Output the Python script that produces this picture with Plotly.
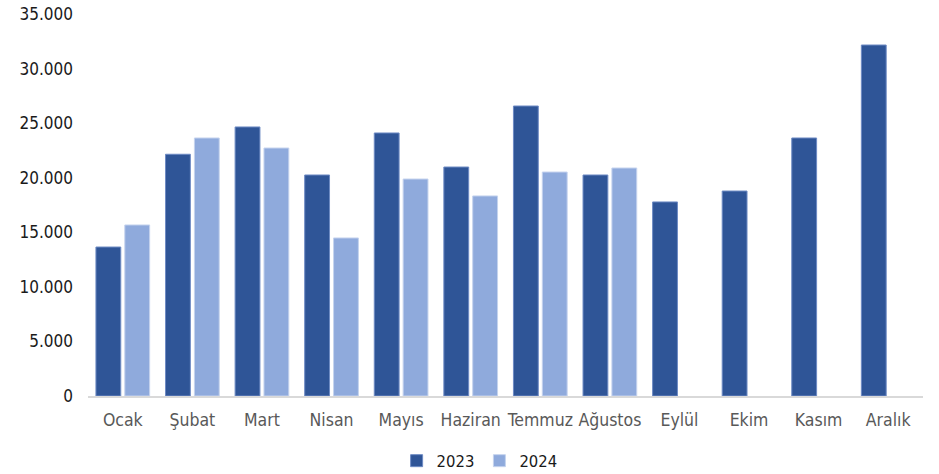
import plotly.graph_objects as go

months = ["Ocak", "Şubat", "Mart", "Nisan", "Mayıs", "Haziran", "Temmuz",
          "Ağustos", "Eylül", "Ekim", "Kasım", "Aralık"]
values_2023 = [13650, 22150, 24650, 20250, 24100, 20980, 26570, 20250,
               17780, 18780, 23640, 32160]
values_2024 = [15670, 23640, 22720, 14480, 19880, 18330, 20520, 20890,
               None, None, None, None]
tick_vals = [0, 5000, 10000, 15000, 20000, 25000, 30000, 35000]
tick_text = ["0", "5.000", "10.000", "15.000", "20.000", "25.000", "30.000", "35.000"]

FONT = "DejaVu Sans Condensed"

fig = go.Figure()
fig.add_trace(go.Bar(name="2023", x=months, y=values_2023,
                     marker=dict(color="#2F5597", line=dict(color="#6E8BC4", width=1))))
fig.add_trace(go.Bar(name="2024", x=months, y=values_2024,
                     marker=dict(color="#8FAADC", line=dict(color="#C5D3EE", width=1))))

fig.update_layout(
    width=939, height=474,
    margin=dict(l=88, r=16, t=14, b=78, autoexpand=False),
    plot_bgcolor="white", paper_bgcolor="white",
    barmode="group", bargap=0.17, bargroupgap=0.14,
    font=dict(family=FONT, size=17, color="#1a1a1a"),
    showlegend=True,
    legend=dict(orientation="h", x=0.469, xanchor="center", y=-0.17, yanchor="middle",
                font=dict(family=FONT, size=16.5, color="#1a1a1a"),
                itemwidth=30, tracegroupgap=0),
    xaxis=dict(showgrid=False, showline=True, linecolor="#D9D9D9", linewidth=1.5,
               ticks="", ticklabelstandoff=7, automargin=False,
               tickfont=dict(family=FONT, size=17.5, color="#595959")),
    yaxis=dict(range=[0, 35000], tickvals=tick_vals, ticktext=tick_text,
               showgrid=False, zeroline=False, showline=False, ticks="",
               ticklabelstandoff=14, automargin=False, ticklabeloverflow="allow",
               tickfont=dict(family=FONT, size=17, color="#1a1a1a")),
)

fig.write_html("out.html", config={"displayModeBar": False},
               post_script="document.body.style.margin='0';document.body.style.overflow='hidden';")
